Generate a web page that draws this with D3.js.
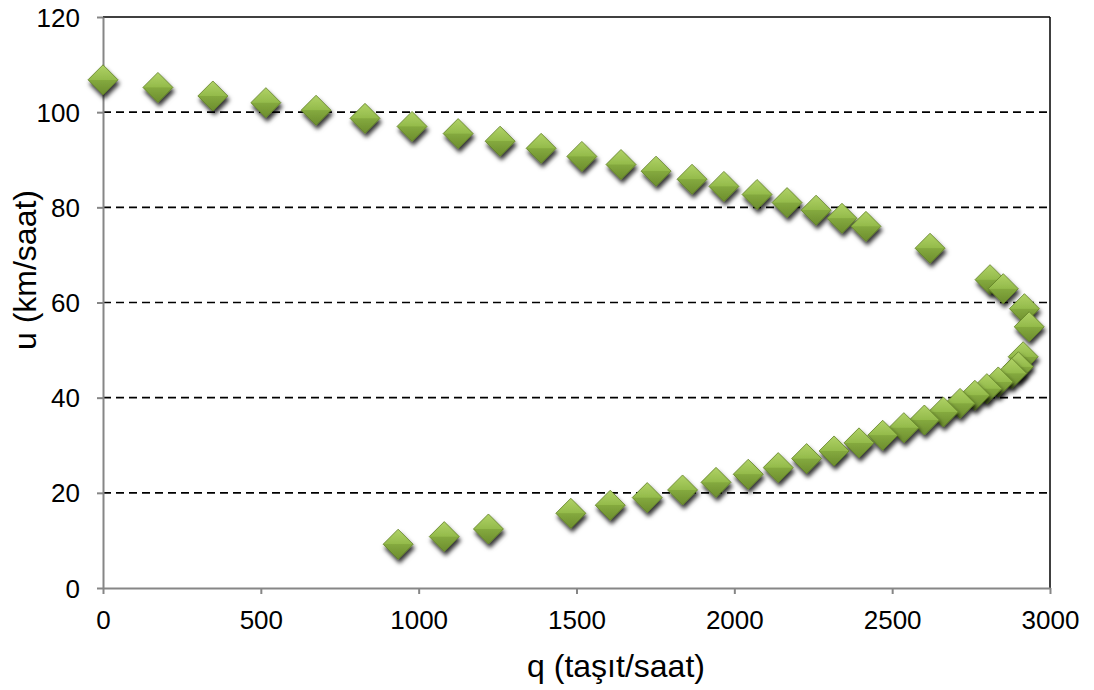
<!DOCTYPE html>
<html>
<head>
<meta charset="utf-8">
<script src="https://cdn.jsdelivr.net/npm/d3@7"></script>
<style>
  body { margin: 0; background: #fff; }
  text { font-family: "Liberation Sans", Arial, sans-serif; }
</style>
</head>
<body>
<div id="chart"></div>
<script>
// akım (taşıt/saat) ve hız (km/saat) değerleri
const qValues = [0, 174, 348, 516, 675, 830, 979, 1125, 1258, 1388, 1517, 1641, 1752, 1866, 1967, 2072, 2167, 2259, 2341, 2417,
                 2620, 2810, 2852, 2919, 2934,
                 2915, 2900, 2879, 2836, 2800, 2762, 2715, 2662, 2602, 2537, 2470, 2395, 2316, 2229, 2139, 2044, 1942, 1836, 1724, 1607, 1482, 1221, 1081, 935];
const uValues = [106.8, 105.2, 103.4, 102.0, 100.4, 98.7, 97.0, 95.5, 93.9, 92.4, 90.7, 89.0, 87.6, 85.9, 84.4, 82.7, 81.0, 79.4, 77.7, 76.0,
                 71.4, 64.8, 62.9, 58.7, 54.9,
                 48.6, 46.5, 45.1, 43.3, 41.9, 40.5, 38.8, 37.0, 35.3, 33.7, 32.1, 30.5, 28.8, 27.2, 25.3, 23.9, 22.2, 20.6, 19.0, 17.4, 15.7, 12.4, 10.8, 9.2];
const xTicks = [0, 500, 1000, 1500, 2000, 2500, 3000];
const yTicks = [0, 20, 40, 60, 80, 100, 120];

let data = qValues.map((q, i) => ({ q: q, u: uValues[i] }));

let W = 1094, H = 690;
let margin = { top: 17, right: 44, bottom: 102, left: 103 };
let width = W - margin.left - margin.right;
let height = H - margin.top - margin.bottom;

let svgRoot = d3.select("#chart").append("svg")
    .attr("width", W)
    .attr("height", H);

// gölge ve degrade
let defs = svgRoot.append("defs");
let grad = defs.append("linearGradient")
    .attr("id", "diamondFill")
    .attr("x1", 0).attr("y1", 0).attr("x2", 0).attr("y2", 1);
grad.append("stop").attr("offset", "0%").attr("stop-color", "#b0d266");
grad.append("stop").attr("offset", "49%").attr("stop-color", "#94bb4b");
grad.append("stop").attr("offset", "51%").attr("stop-color", "#84a93e");
grad.append("stop").attr("offset", "100%").attr("stop-color", "#6c8d2e");

let shadow = defs.append("filter")
    .attr("id", "shadow")
    .attr("x", "-50%").attr("y", "-50%").attr("width", "200%").attr("height", "200%");
shadow.append("feDropShadow")
    .attr("dx", 1.5).attr("dy", 4)
    .attr("stdDeviation", 2.2)
    .attr("flood-color", "#000")
    .attr("flood-opacity", 0.8);

let svg = svgRoot.append("g")
    .attr("transform", `translate(${margin.left},${margin.top})`);

let x = d3.scaleLinear().domain([0, 3000]).range([0, width]);
let y = d3.scaleLinear().domain([0, 120]).range([height, 0]);

// kesikli ızgara çizgileri
svg.append("g")
    .selectAll("line")
    .data(yTicks.filter(d => d > 0 && d < 120))
    .enter()
    .append("line")
    .attr("x1", 0).attr("x2", width)
    .attr("y1", d => y(d)).attr("y2", d => y(d))
    .attr("stroke", "#000")
    .attr("stroke-width", 1.6)
    .attr("stroke-dasharray", "8,5");

// üst ve sağ çerçeve
svg.append("line")
    .attr("x1", 0).attr("x2", width)
    .attr("y1", y(120)).attr("y2", y(120))
    .attr("stroke", "#000").attr("stroke-width", 1.5);
svg.append("line")
    .attr("x1", width).attr("x2", width)
    .attr("y1", 0).attr("y2", height)
    .attr("stroke", "#000").attr("stroke-width", 1.5);

// eksenler
let xAxis = svg.append("g")
    .attr("transform", `translate(0,${height})`)
    .call(d3.axisBottom(x).tickValues(xTicks).tickFormat(d3.format("d")).tickSize(6).tickPadding(17).tickSizeOuter(0));
let yAxis = svg.append("g")
    .call(d3.axisLeft(y).tickValues(yTicks).tickFormat(d3.format("d")).tickSize(6).tickPadding(17).tickSizeOuter(0));

[xAxis, yAxis].forEach(ax => {
    ax.select(".domain").attr("stroke", "#868686").attr("stroke-width", 2);
    ax.selectAll(".tick line").attr("stroke", "#868686").attr("stroke-width", 2);
    ax.selectAll(".tick text")
        .style("font-size", "26px")
        .attr("fill", "#000");
});
yAxis.selectAll(".tick text").attr("dy", "0.35em");

// noktalar (elmas)
let r = 15;
svg.append("g")
    .selectAll("path")
    .data(data)
    .enter()
    .append("path")
    .attr("transform", d => `translate(${x(d.q)},${y(d.u)})`)
    .attr("d", `M0,${-r}L${r},0L0,${r}L${-r},0Z`)
    .attr("fill", "url(#diamondFill)")
    .attr("stroke", "#5f7f25")
    .attr("stroke-width", 0.8)
    .attr("filter", "url(#shadow)");

// eksen başlıkları
svgRoot.append("text")
    .attr("x", 616)
    .attr("y", 677)
    .attr("text-anchor", "middle")
    .style("font-size", "32px")
    .text("q (taşıt/saat)");

svgRoot.append("text")
    .attr("transform", "translate(36,270) rotate(-90)")
    .attr("text-anchor", "middle")
    .style("font-size", "32px")
    .text("u (km/saat)");
</script>
</body>
</html>
